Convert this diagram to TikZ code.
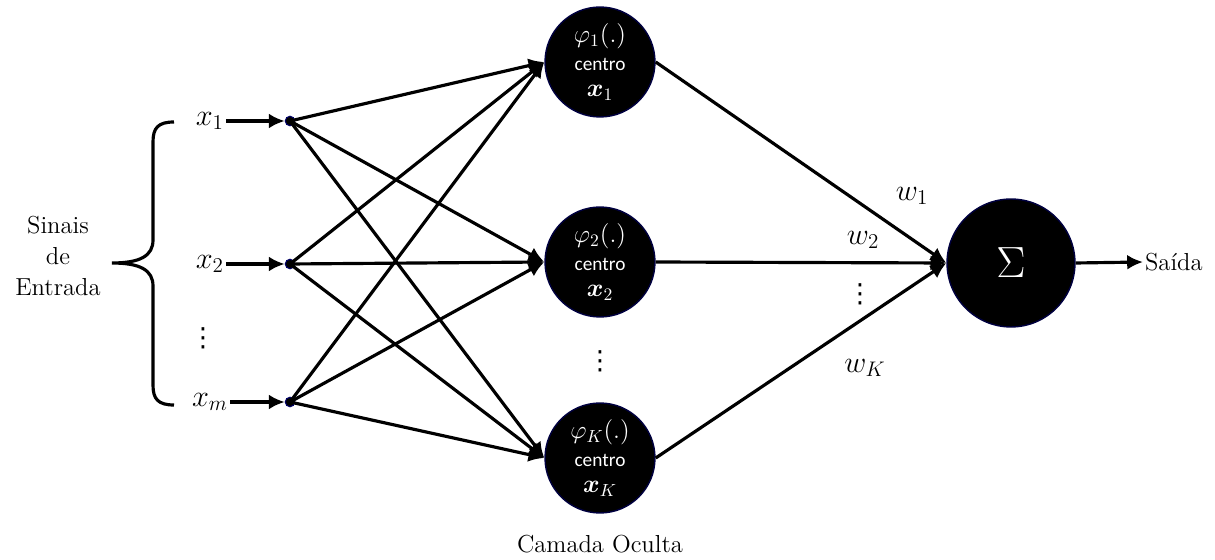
\documentclass[tikz,border=0pt]{standalone}
\usepackage{amsmath}
\usepackage{fontspec}
\newfontfamily\centrofont{Carlito}
\newfontfamily\pontos{DejaVu Sans}
\usetikzlibrary{arrows.meta}

\tikzset{
  neuronio/.style={circle, fill=black, draw=blue!25!black, line width=.8pt,
    minimum size=2.2cm, inner sep=0pt, text=white, align=center,
    font=\fontsize{14}{14}\selectfont},
  soma/.style={neuronio, minimum size=2.56cm, font=\fontsize{34}{36}\selectfont},
  entrada/.style={circle, fill=black, draw=blue!40!black, line width=.6pt,
    minimum size=.19cm, inner sep=0pt},
  seta/.style={line width=1.8pt, -{Latex[length=9pt,width=8.5pt]}},
  rotulo/.style={font=\fontsize{14}{17.6}\selectfont, inner sep=1pt},
  mat/.style={font=\fontsize{16.5}{18}\selectfont, inner sep=1pt},
  reticencias/.style={font=\pontos\fontsize{15}{16}\selectfont, inner sep=0pt},
}
\newcommand{\centro}{{\centrofont\fontsize{11}{12}\selectfont centro}}

\begin{document}
\begin{tikzpicture}[x=0.02cm, y=-0.02cm]
\useasboundingbox (0,0) rectangle (1215,560);

% entradas
\node[entrada] (in1) at (290,121) {};
\node[entrada] (in2) at (290,264) {};
\node[entrada] (inm) at (290,402) {};

\node[mat, left] (x1) at (226,121) {$x_1$};
\node[mat, left] (x2) at (226,264) {$x_2$};
\node[mat, left] (xm) at (230,402) {$x_m$};
\node[reticencias] (vx) at (203,338) {⋮};

\foreach \i in {1,2,m}
  \draw[seta] (x\i) -- (in\i);

% chave
\draw[line width=1.8pt] (174,122) .. controls (158,122) and (153,128) .. (153,142)
  -- (153,240) .. controls (153,256) and (140,263) .. (112,263)
  .. controls (140,263) and (153,270) .. (153,286)
  -- (153,385) .. controls (153,399) and (158,405) .. (174,405);
\node[rotulo, align=center] (sinais) at (58,256) {Sinais\\de\\Entrada};

% camada oculta
\node[neuronio] (h1) at (600,62) {$\varphi_1(.)$\\[2pt]\centro\\[1pt]$\boldsymbol{x}_1$};
\node[neuronio] (h2) at (600,262) {$\varphi_2(.)$\\[2pt]\centro\\[1pt]$\boldsymbol{x}_2$};
\node[neuronio] (hK) at (600,458) {$\varphi_K(.)$\\[2pt]\centro\\[1pt]$\boldsymbol{x}_K$};
\node[reticencias] (vh) at (600,361) {⋮};
\node[rotulo] (oculta) at (600,544) {Camada Oculta};

\foreach \i in {1,2,m}
  \foreach \j in {1,2,K}
    \draw[seta] (in\i.center) -- (h\j.west);

% saida
\node[soma] (sum) at (1011,263) {$\Sigma$};
\node[rotulo, right] (saida) at (1143,262) {Saída};

\foreach \j in {1,2,K}
  \draw[seta] (h\j.east) -- (sum.west);
\draw[seta] (sum.east) -- (saida.west);

\node[mat] (w1) at (912,196) {$w_1$};
\node[mat] (w2) at (863,240) {$w_2$};
\node[reticencias] (vw) at (860,294) {⋮};
\node[mat] (wK) at (865,368) {$w_K$};
\end{tikzpicture}
\end{document}
